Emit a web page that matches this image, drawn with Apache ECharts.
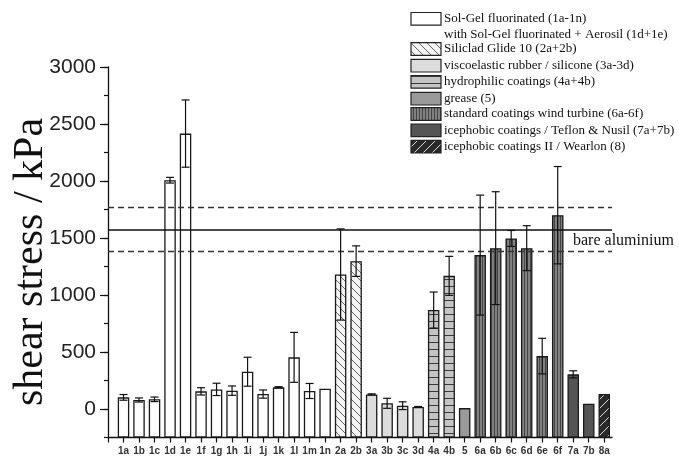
<!DOCTYPE html>
<html><head><meta charset="utf-8">
<script src="https://cdn.jsdelivr.net/npm/echarts@6/dist/echarts.min.js"></script>
<style>html,body{margin:0;padding:0;background:#fff}#c{width:679px;height:460px}</style>
</head><body><div id="c"></div>
<script>
const categories = ['1a','1b','1c','1d','1e','1f','1g','1h','1i','1j','1k','1l','1m','1n','2a','2b','3a','3b','3c','3d','4a','4b','5','6a','6b','6c','6d','6e','6f','7a','7b','8a'];
const values = [102,79,85,2007,2416,155,172,161,327,131,190,453,158,178,1180,1297,128,50,29,18,868,1168,8,1350,1411,1496,1411,464,1700,304,47,131];
const errors = [25,18,20,25,295,32,54,41,127,36,6,219,66,0,400,134,5,44,34,4,158,171,0,526,495,70,197,156,427,31,0,0];
const groupOf = [0,0,0,0,0,0,0,0,0,0,0,0,0,0,1,1,2,2,2,2,3,3,4,5,5,5,5,5,5,6,6,7];
const legendNames = ['Sol-Gel fluorinated (1a-1n)','Siliclad Glide 10 (2a+2b)','viscoelastic rubber / silicone (3a-3d)','hydrophilic coatings (4a+4b)','grease (5)','standard coatings wind turbine (6a-6f)','icephobic coatings / Teflon & Nusil (7a+7b)','icephobic coatings II / Wearlon (8)'];
const legendExtra = 'with Sol-Gel fluorinated + Aerosil (1d+1e)';
const refMean = 1575, refUpper = 1770, refLower = 1385;
const refLabel = 'bare aluminium';
const yTicks = [0,500,1000,1500,2000,2500,3000];

function mk(w,h,draw){const c=document.createElement('canvas');c.width=w;c.height=h;const g=c.getContext('2d');draw(g,w,h);return {image:c,repeat:'repeat'};}
const fills = [
  '#ffffff',
  mk(8,8,(g,w,h)=>{g.fillStyle='#f4f4f4';g.fillRect(0,0,w,h);g.strokeStyle='#555';g.lineWidth=0.9;g.beginPath();g.moveTo(-1,-1);g.lineTo(w+1,h+1);g.moveTo(-1,h-1);g.lineTo(1,h+1);g.moveTo(w-1,-1);g.lineTo(w+1,1);g.stroke();}),
  '#dcdcdc',
  mk(4,7,(g,w,h)=>{g.fillStyle='#c4c4c4';g.fillRect(0,0,w,h);g.fillStyle='#3a3a3a';g.fillRect(0,6,w,1);}),
  '#9a9a9a',
  mk(3,4,(g,w,h)=>{g.fillStyle='#808080';g.fillRect(0,0,w,h);g.fillStyle='#454545';g.fillRect(2,0,1,h);}),
  '#555555',
  mk(9,9,(g,w,h)=>{g.fillStyle='#2a2a2a';g.fillRect(0,0,w,h);g.strokeStyle='#d8d8d8';g.lineWidth=1;g.beginPath();g.moveTo(-1,h+1);g.lineTo(w+1,-1);g.moveTo(-1,1);g.lineTo(1,-1);g.moveTo(w-1,h+1);g.lineTo(w+1,h-1);g.stroke();})
];

const idx = categories.map((_,i)=>i);
const barData = values.map((v,i)=>({value:[i,v],itemStyle:{color:fills[groupOf[i]]}}));
const errData = values.map((v,i)=>[i,v,errors[i]]);

const legendRowsY = [18.8,49,65.7,81.8,98.7,114,130.3,146.7];
const graphics = [];
legendNames.forEach((n,k)=>{
  graphics.push({type:'rect',shape:{x:411,y:legendRowsY[k]-6.3,width:30,height:12.6},style:{fill:fills[k],stroke:'#222',lineWidth:1.2}});
  graphics.push({type:'text',x:444,y:legendRowsY[k],style:{text:n,font:'13px "Liberation Serif"',fill:'#111',textVerticalAlign:'middle'}});
});
graphics.push({type:'text',x:444,y:34.5,style:{text:legendExtra,font:'13px "Liberation Serif"',fill:'#111',textVerticalAlign:'middle'}});
graphics.push({type:'text',x:573,y:241,style:{text:refLabel,font:'16px "Liberation Serif"',fill:'#111',textVerticalAlign:'middle'}});
graphics.push({type:'text',x:31,y:262,rotation:Math.PI/2,style:{text:'shear stress / kPa',font:'42px "Liberation Serif"',fill:'#111',textAlign:'center',textVerticalAlign:'middle'}});

const chart = echarts.init(document.getElementById('c'));
chart.setOption({
  animation:false,
  backgroundColor:'#fff',
  grid:{left:108,right:67,top:67,bottom:22.5},
  xAxis:{type:'value',min:-1,max:31.5,interval:1,
    axisLine:{onZero:false,lineStyle:{color:'#111',width:1.3}},
    axisTick:{length:5,lineStyle:{color:'#111',width:1.2},customValues:[-1].concat(idx)},
    axisLabel:{customValues:idx,formatter:v=>categories[v]??'',fontFamily:'Liberation Sans',fontSize:10,fontWeight:'bold',color:'#333',margin:9},
    splitLine:{show:false}},
  yAxis:[{type:'value',min:-250,max:3000,interval:250,startValue:-250,
    axisLine:{show:true,onZero:false,lineStyle:{color:'#111',width:1.3}},
    axisTick:{show:true,length:4,lineStyle:{color:'#111',width:1.2}},
    axisLabel:{show:false},splitLine:{show:false}},
   {type:'value',min:-250,max:3000,position:'left',
    axisLine:{show:false,onZero:false},
    axisTick:{show:true,length:8,customValues:yTicks,lineStyle:{color:'#111',width:1.2}},
    axisLabel:{customValues:yTicks,formatter:v=>String(v),fontFamily:'Liberation Sans',fontSize:21,color:'#222',margin:12},
    splitLine:{show:false}}],
  graphic:graphics,
  series:[
    {type:'bar',data:barData,barWidth:11.5,itemStyle:{borderColor:'#1a1a1a',borderWidth:1.3},
     markLine:{silent:true,symbol:'none',label:{show:false},
       data:[{yAxis:refMean,lineStyle:{type:'solid',color:'#111',width:1.6}},
             {yAxis:refUpper,lineStyle:{type:[6,4],color:'#333',width:1.3}},
             {yAxis:refLower,lineStyle:{type:[6,4],color:'#333',width:1.3}}]}},
    {type:'custom',data:errData,z:5,
     renderItem:(params,api)=>{
       const x=api.value(0),v=api.value(1),e=api.value(2);
       if(!e) return null;
       const t=api.coord([x,v+e]),b=api.coord([x,v-e]);
       const st={stroke:'#111',lineWidth:1.2};
       return {type:'group',children:[
         {type:'line',shape:{x1:t[0],y1:t[1],x2:b[0],y2:b[1]},style:st},
         {type:'line',shape:{x1:t[0]-4,y1:t[1],x2:t[0]+4,y2:t[1]},style:st},
         {type:'line',shape:{x1:b[0]-4,y1:b[1],x2:b[0]+4,y2:b[1]},style:st}]};
     }}
  ]
});
</script></body></html>
